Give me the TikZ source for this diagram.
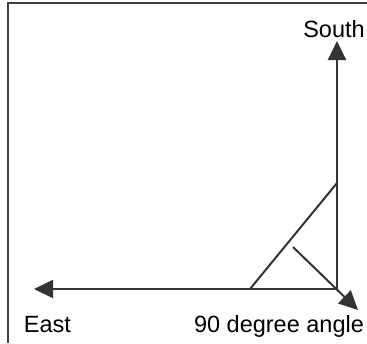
\documentclass[tikz,border=0pt]{standalone}
\usepackage{fontspec}
\setmainfont{Liberation Sans}
\usetikzlibrary{arrows.meta}
\begin{document}
\begin{tikzpicture}[x=1pt,y=-1pt,
  ln/.style={line width=2pt,draw=black!80},
  arr/.style={ln,-{Triangle[length=19pt,width=18pt]}},
  lbl/.style={font=\fontsize{23.5}{23.5}\selectfont,inner sep=0pt,anchor=base}]
\useasboundingbox (0,0) rectangle (367,343);
\draw[line width=2pt,draw=black!75] (8,343) -- (8,2.5) -- (367,2.5);
\coordinate (O) at (337,289);
\coordinate (S) at (337,41);
\coordinate (E) at (34,289);
\coordinate (D1) at (250,289);
\coordinate (D2) at (337,183);
\coordinate (P) at (293,247);
\coordinate (T) at (358,310);
\draw[arr] (O) -- (S);
\draw[arr] (O) -- (E);
\draw[ln] (D1) -- (D2);
\draw[arr] (P) -- (T);
\node[lbl] (south) at (334,37) {South};
\node[lbl] (east) at (47.5,332) {East};
\node[lbl] (angle) at (279,332) {90 degree angle};
\end{tikzpicture}
\end{document}
